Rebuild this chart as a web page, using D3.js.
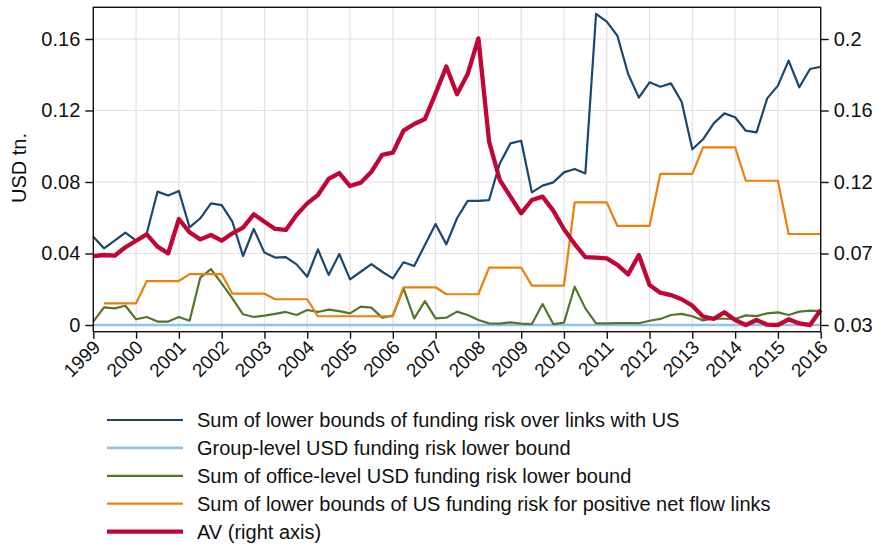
<!DOCTYPE html>
<html>
<head>
<meta charset="utf-8">
<script src="https://cdn.jsdelivr.net/npm/d3@7"></script>
<style>
  html, body { margin: 0; padding: 0; background: #fff; }
  svg { display: block; font-family: "Liberation Sans", Arial, sans-serif; }
</style>
</head>
<body>
<svg id="chart" width="877" height="546"></svg>
<script>
// ---------- data ----------
const startYear = 1999;
const yearTicks = d3.range(1999, 2017);
const leftTicks = [0, 0.04, 0.08, 0.12, 0.16];
const leftTickLabels = ["0", "0.04", "0.08", "0.12", "0.16"];
const rightTicks = [0.03, 0.0725, 0.115, 0.1575, 0.2];
const rightTickLabels = ["0.03", "0.07", "0.12", "0.16", "0.2"];

// quarterly, 1999Q1 .. 2016Q1
const linksUS = [0.0494,0.0429,0.0472,0.0517,0.0472,0.0513,0.0746,0.0724,0.075,0.0546,
  0.0597,0.068,0.0671,0.0578,0.0386,0.0537,0.0405,0.0377,0.038,0.0339,
  0.027,0.0423,0.028,0.0397,0.0255,0.0298,0.0341,0.0298,0.0261,0.0351,
  0.033,0.0448,0.0565,0.0451,0.0597,0.0694,0.0694,0.0699,0.0904,0.1016,
  0.1031,0.0742,0.078,0.0798,0.0854,0.0873,0.0848,0.174,0.1697,0.1617,
  0.1404,0.1272,0.1358,0.1333,0.1352,0.1249,0.0983,0.1039,0.1128,0.1184,
  0.1162,0.1087,0.1078,0.1268,0.1339,0.1479,0.133,0.1432,0.1445];

const groupLevel = [0,0,0,0,0,0,0,0,0,0, 0,0,0,0,0,0,0,0,0,0,
  0,0,0,0,0,0,0,0,0,0, 0,0,0,0,0,0,0,0,0,0, 0,0,0,0,0,0,0,0,0,0,
  0,0,0,0,0,0,0,0,0,0, 0,0,0,0,0,0,0,0,0];

const officeLevel = [0.0019,0.0099,0.0093,0.0108,0.0032,0.0045,0.0019,0.0019,0.0045,0.0024,
  0.0265,0.0313,0.0233,0.0149,0.006,0.0045,0.0052,0.0062,0.0073,0.0056,
  0.0084,0.0073,0.0086,0.0078,0.0065,0.0103,0.0097,0.0041,0.0052,0.0205,
  0.0037,0.0134,0.0037,0.0041,0.0075,0.0056,0.0028,0.0009,0.0008,0.0015,
  0.0008,0.0005,0.0117,0.0005,0.0013,0.0214,0.0093,0.0009,0.0009,0.001,
  0.001,0.001,0.0024,0.0034,0.0056,0.0062,0.0049,0.0026,0.0037,0.0035,
  0.0034,0.0054,0.005,0.0065,0.0071,0.0056,0.0075,0.008,0.0078];

const positiveNetFlow = [null,0.0121,0.0121,0.0121,0.0121,0.0246,0.0246,0.0246,0.0246,0.0285,
  0.0285,0.0285,0.0285,0.0175,0.0175,0.0175,0.0175,0.0144,0.0144,0.0144,
  0.0144,0.0049,0.0049,0.0049,0.0049,0.0049,0.0049,0.0049,0.0049,0.0211,
  0.0211,0.0211,0.0211,0.0172,0.0172,0.0172,0.0172,0.0321,0.0321,0.0321,
  0.0321,0.022,0.022,0.022,0.022,0.0686,0.0686,0.0686,0.0686,0.0554,
  0.0554,0.0554,0.0554,0.0845,0.0845,0.0845,0.0845,0.0994,0.0994,0.0994,
  0.0994,0.0807,0.0807,0.0807,0.0807,0.0509,0.0509,0.0509,0.0509];

const av = [0.071,0.0716,0.0712,0.0762,0.0801,0.0839,0.0766,0.0726,0.093,0.0851,
  0.0809,0.0835,0.0801,0.0845,0.0879,0.0958,0.0914,0.0871,0.0865,0.0954,
  0.1023,0.1073,0.1168,0.1203,0.1126,0.1146,0.1211,0.1311,0.1324,0.1455,
  0.1495,0.1524,0.1677,0.1836,0.1671,0.1792,0.2004,0.139,0.1162,0.1063,
  0.0964,0.1043,0.1063,0.098,0.0869,0.0781,0.0704,0.07,0.0696,0.0657,
  0.0601,0.0716,0.0538,0.0492,0.0478,0.0453,0.0415,0.035,0.0336,0.0376,
  0.033,0.03,0.033,0.0302,0.03,0.0334,0.0309,0.03,0.0389];

const seriesNames = [
  "Sum of lower bounds of funding risk over links with US",
  "Group-level USD funding risk lower bound",
  "Sum of office-level USD funding risk lower bound",
  "Sum of lower bounds of US funding risk for positive net flow links",
  "AV (right axis)"
];
const seriesColors = ["#1a476f", "#8fc3e9", "#55752f", "#e8820c", "#c10534"];
const seriesWidths = [2.2, 2.6, 2.2, 2.2, 4.3];

// ---------- layout ----------
const svg = d3.select("#chart");
const W = 877, H = 546;
const plot = { left: 93.3, right: 820.7, top: 7.3, bottom: 331.7 };

const x = d3.scaleLinear().domain([1999, 2016]).range([plot.left, plot.right]);
const yL = d3.scaleLinear().domain([0, 0.16]).range([325, 39]);
const yR = d3.scaleLinear().domain([0.03, 0.2]).range([325, 39]);

const quarterTime = linksUS.map((_, i) => startYear + i / 4);

svg.append("rect").attr("width", W).attr("height", H).attr("fill", "#fff");

// grid
const grid = svg.append("g");
grid.selectAll("line.h").data(leftTicks).join("line")
  .attr("x1", plot.left).attr("x2", plot.right)
  .attr("y1", d => yL(d)).attr("y2", d => yL(d))
  .attr("stroke", "#e1e1e1").attr("stroke-width", 1.2);
grid.selectAll("line.v").data(yearTicks.slice(1, -1)).join("line")
  .attr("x1", d => x(d)).attr("x2", d => x(d))
  .attr("y1", plot.top).attr("y2", plot.bottom)
  .attr("stroke", "#e1e1e1").attr("stroke-width", 1.2);

// lines
const series = [
  { vals: linksUS, scale: yL },
  { vals: groupLevel, scale: yL },
  { vals: officeLevel, scale: yL },
  { vals: positiveNetFlow, scale: yL },
  { vals: av, scale: yR }
];
series.forEach((s, k) => {
  const line = d3.line()
    .defined(d => d[1] !== null)
    .x(d => x(d[0]))
    .y(d => s.scale(d[1]));
  svg.append("path")
    .datum(quarterTime.map((t, i) => [t, s.vals[i]]))
    .attr("fill", "none")
    .attr("stroke", seriesColors[k])
    .attr("stroke-width", seriesWidths[k])
    .attr("stroke-linejoin", "round")
    .attr("d", line);
});

// frame
svg.append("rect")
  .attr("x", plot.left).attr("y", plot.top)
  .attr("width", plot.right - plot.left).attr("height", plot.bottom - plot.top)
  .attr("fill", "none").attr("stroke", "#111").attr("stroke-width", 1.4);

// left axis
const gL = svg.append("g").attr("transform", `translate(${plot.left},0)`)
  .call(d3.axisLeft(yL).tickValues(leftTicks).tickSize(8).tickPadding(5)
    .tickFormat((d, i) => leftTickLabels[i]));
// right axis
const gR = svg.append("g").attr("transform", `translate(${plot.right},0)`)
  .call(d3.axisRight(yR).tickValues(rightTicks).tickSize(8).tickPadding(5)
    .tickFormat((d, i) => rightTickLabels[i]));
// bottom axis
const gB = svg.append("g").attr("transform", `translate(0,${plot.bottom})`)
  .call(d3.axisBottom(x).tickValues(yearTicks).tickSize(7).tickFormat(d3.format("d")));

[gL, gR, gB].forEach(g => {
  g.select(".domain").remove();
  g.selectAll(".tick line").attr("stroke", "#111").attr("stroke-width", 1.4);
  g.selectAll(".tick text").attr("fill", "#111")
    .style("font-family", '"Liberation Sans", Arial, sans-serif')
    .style("font-size", "20px");
});
gB.selectAll(".tick text")
  .style("font-size", "19px")
  .attr("text-anchor", "end")
  .attr("dy", "0.35em")
  .attr("transform", "translate(3,12) rotate(-45)")
  .attr("x", 0).attr("y", 0);

// y-axis label
svg.append("text")
  .attr("transform", `translate(26,168) rotate(-90)`)
  .attr("text-anchor", "middle")
  .attr("fill", "#111")
  .style("font-size", "20px")
  .text("USD tn.");

// legend
const lg = svg.append("g");
seriesNames.forEach((name, k) => {
  const cy = 420 + k * 27.9;
  lg.append("line").attr("x1", 107).attr("x2", 183).attr("y1", cy).attr("y2", cy)
    .attr("stroke", seriesColors[k]).attr("stroke-width", seriesWidths[k]);
  lg.append("text").attr("x", 197).attr("y", cy).attr("dy", "0.35em")
    .attr("fill", "#111").style("font-size", "20px").text(name);
});
</script>
</body>
</html>
